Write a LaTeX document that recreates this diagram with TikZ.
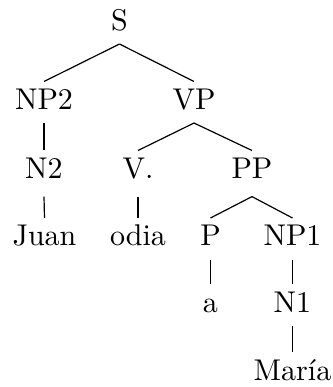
\documentclass[tikz,border=0pt]{standalone}
\begin{document}
\begin{tikzpicture}[x=0.33333pt,y=-0.33333pt,
  lbl/.style={inner sep=0pt,outer sep=0pt,anchor=base,text height=9.17pt,text depth=4.67pt},
  deep/.style={text depth=6.2pt},
  branch/.style={line width=0.4pt}]
\useasboundingbox (0,0) rectangle (333,387);
\node[lbl] (S) at (119.5,30) {S};
\node[lbl] (NP2) at (44,109) {NP2};
\node[lbl] (VP) at (194,109) {VP};
\node[lbl,deep] (N2) at (44,178) {N2};
\node[lbl,deep] (V) at (138,178) {V.};
\node[lbl,deep] (PP) at (252,178) {PP};
\node[lbl] (Juan) at (44.5,245.5) {Juan};
\node[lbl] (odia) at (138,245.5) {odia};
\node[lbl] (P) at (210.5,245.5) {P};
\node[lbl] (NP1) at (292.5,245.5) {NP1};
\node[lbl] (a) at (210.5,312) {a};
\node[lbl] (N1) at (292.5,312) {N1};
\node[lbl] (Maria) at (292.5,380) {María};
\draw[branch] (S.south) -- (NP2.north);
\draw[branch] (S.south) -- (VP.north);
\draw[branch] (NP2.south) -- (N2.north);
\draw[branch] (N2.south) -- (Juan.north);
\draw[branch] (VP.south) -- (V.north);
\draw[branch] (VP.south) -- (PP.north);
\draw[branch] (V.south) -- (odia.north);
\draw[branch] (PP.south) -- (P.north);
\draw[branch] (PP.south) -- (NP1.north);
\draw[branch] (P.south) -- (a.north);
\draw[branch] (NP1.south) -- (N1.north);
\draw[branch] (N1.south) -- (Maria.north);
\end{tikzpicture}
\end{document}
